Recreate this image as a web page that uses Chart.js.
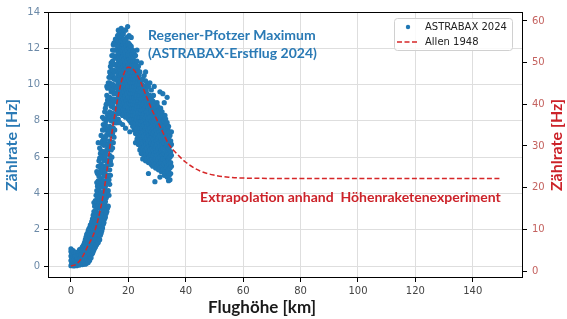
<!DOCTYPE html>
<html>
<head>
<meta charset="utf-8">
<script src="https://cdn.jsdelivr.net/npm/chart.js@4.4.1/dist/chart.umd.min.js"></script>
<style>
  html, body { margin: 0; padding: 0; background: #fff; }
</style>
</head>
<body>
<canvas id="myChart" width="567" height="319"></canvas>
<script>
// ASTRABAX 2024 flight: each row = altitude (km) and the count rates (Hz) read at it
var astrabaxRows = [
  [0, [0.02, 0.3, 0.55, 0.8, 0.95]], [0.25, [0.15, 0.45, 0.7]], [0.5, [0.05, 0.35, 0.6]], [0.75, [0.2, 0.5, 0.85]],
  [1, [0, 0.3, 0.6]], [1.25, [0.12, 0.4, 0.7]], [1.5, [0.05, 0.3, 0.55]], [1.75, [0.18, 0.45, 0.75]],
  [2, [0.02, 0.3, 0.6]], [2.25, [0.15, 0.42]], [2.5, [0.08, 0.35, 0.65]], [2.75, [0.2, 0.5, 0.8]],
  [3, [0.05, 0.32, 0.6, 0.9]], [3.25, [0.18, 0.45, 0.72]], [3.5, [0.1, 0.38, 0.65, 0.95]], [3.75, [0.25, 0.55, 0.85]],
  [4, [0.08, 0.4, 0.7, 1.05]], [4.25, [0.2, 0.52, 0.85, 1.1]], [4.5, [0.12, 0.45, 0.78, 1.2]], [4.75, [0.3, 0.62, 0.95, 1.3]],
  [5, [0.1, 0.42, 0.75, 1.1, 1.45]], [5.25, [0.25, 0.6, 0.92, 1.28, 1.6]],
  [5.5, [0.15, 0.5, 0.85, 1.2, 1.55, 1.75]], [5.75, [0.35, 0.7, 1.05, 1.4, 1.8]],
  [6, [0.2, 0.55, 0.9, 1.25, 1.6, 1.95]], [6.25, [0.4, 0.75, 1.1, 1.45, 1.85, 2.05]],
  [6.5, [0.3, 0.65, 1.0, 1.35, 1.7, 2.1]], [6.75, [0.5, 0.85, 1.2, 1.6, 1.95, 2.25]],
  [7, [0.45, 0.8, 1.15, 1.5, 1.9, 2.3]], [7.25, [0.65, 1.0, 1.4, 1.75, 2.15, 2.45]],
  [7.5, [0.7, 1.1, 1.5, 1.9, 2.3, 2.6]], [7.75, [0.8, 1.25, 1.65, 2.05, 2.5, 2.8]],
  [8, [0.9, 1.3, 1.75, 2.2, 2.65, 3.0, 3.5]], [8.25, [1.0, 1.45, 1.9, 2.4, 2.85, 3.3]],
  [8.5, [1.05, 1.55, 2.05, 2.55, 3.05, 3.6]], [8.75, [1.15, 1.7, 2.25, 2.8, 3.3, 3.9]],
  [9, [1.2, 1.75, 2.35, 2.95, 3.55, 4.15, 4.6, 5.2]], [9.25, [1.35, 1.95, 2.55, 3.2, 3.8, 4.4, 5.1]],
  [9.5, [1.3, 1.9, 2.6, 3.3, 4.0, 4.7, 5.5, 6.8]], [9.75, [1.5, 2.15, 2.85, 3.55, 4.25, 4.95, 5.8]],
  [10, [1.45, 2.2, 2.95, 3.7, 4.45, 5.2, 5.95, 6.5]], [10.25, [1.7, 2.45, 3.2, 3.95, 4.7, 5.45, 6.2]],
  [10.5, [1.8, 2.55, 3.3, 4.05, 4.8, 5.6, 6.35, 7.2]], [10.75, [1.95, 2.75, 3.55, 4.35, 5.15, 5.95, 6.75]],
  [11, [2.1, 2.9, 3.7, 4.5, 5.3, 6.1, 6.9, 7.5, 8.2]], [11.25, [2.3, 3.1, 3.9, 4.7, 5.5, 6.3, 7.1, 7.8]],
  [11.5, [2.4, 3.25, 4.1, 4.95, 5.8, 6.65, 7.5, 8.1]], [11.75, [2.6, 3.45, 4.3, 5.15, 6.0, 6.85, 7.7, 8.5]],
  [12, [2.7, 3.55, 4.4, 5.25, 6.1, 6.95, 7.8, 8.7]], [12.25, [2.9, 3.75, 4.6, 5.45, 6.3, 7.15, 8.0, 8.9]],
  [12.5, [3.0, 3.85, 4.7, 5.55, 6.4, 7.25, 8.1, 8.95, 9.4, 9.9]], [12.75, [3.2, 4.05, 4.9, 5.75, 6.6, 7.45, 8.3, 9.15, 9.8]],
  [13, [3.3, 4.15, 5.0, 5.85, 6.7, 7.55, 8.4, 9.25, 10.1]], [13.25, [3.9, 4.75, 5.6, 6.45, 7.3, 8.15, 9.0, 9.85, 10.4]],
  [13.5, [4.5, 5.3, 6.1, 6.9, 7.7, 8.5, 9.3, 10.1, 10.7]], [13.75, [5.0, 5.8, 6.6, 7.4, 8.2, 9.0, 9.8, 10.6, 11.0]],
  [14, [5.6, 6.4, 7.2, 8.0, 8.8, 9.6, 10.4, 11.2]], [14.25, [6.0, 6.8, 7.6, 8.4, 9.2, 10.0, 10.8, 11.6]],
  [14.5, [6.5, 7.3, 8.1, 8.9, 9.7, 10.5, 11.3, 11.9]], [14.75, [6.8, 7.6, 8.4, 9.2, 10.0, 10.8, 11.6, 12.2]],
  [15, [7.1, 7.9, 8.7, 9.5, 10.3, 11.1, 11.9, 12.3]], [15.25, [7.5, 8.3, 9.1, 9.9, 10.7, 11.5, 12.3]],
  [15.5, [7.9, 8.7, 9.5, 10.3, 11.1, 11.9, 12.5]], [15.75, [8.1, 9.1, 9.9, 10.7, 11.5, 12.3]],
  [16, [7.9, 8.6, 9.2, 9.8, 10.4, 11.0, 11.6, 12.2, 12.5]], [16.25, [8.4, 9.0, 9.6, 10.2, 10.8, 11.4, 12.0, 12.7]],
  [16.5, [8.1, 8.8, 9.4, 10.0, 10.6, 11.2, 11.8, 12.4, 13.0]], [16.75, [8.5, 9.1, 9.7, 10.3, 10.9, 11.5, 12.1, 12.8]],
  [17, [7.9, 8.7, 9.3, 9.9, 10.5, 11.1, 11.7, 12.3, 12.9]], [17.25, [8.4, 9.0, 9.6, 10.2, 10.8, 11.4, 12.0, 12.6]],
  [17.5, [8.8, 9.4, 10.0, 10.6, 11.2, 11.8, 12.4, 13.1]], [17.75, [8.5, 9.1, 9.7, 10.3, 10.9, 11.5, 12.1, 12.7]],
  [18, [7.8, 8.3, 8.9, 9.5, 10.1, 10.7, 11.3, 11.9, 12.4]], [18.25, [8.6, 9.2, 9.8, 10.4, 11.0, 11.6, 12.2, 12.8]],
  [18.5, [8.4, 9.0, 9.6, 10.2, 10.8, 11.4, 12.0, 12.5, 13.0]], [18.75, [8.7, 9.3, 9.9, 10.5, 11.1, 11.7, 12.3]],
  [19, [7.6, 8.2, 8.8, 9.4, 10.0, 10.6, 11.2, 11.8, 12.4, 13.0]], [19.25, [8.5, 9.1, 9.7, 10.3, 10.9, 11.5, 12.1]],
  [19.5, [8.3, 8.9, 9.5, 10.1, 10.7, 11.3, 11.9, 12.6]], [19.75, [8.6, 9.2, 9.8, 10.4, 11.0, 11.6, 12.2, 13.2]],
  [20, [8.1, 8.7, 9.3, 9.9, 10.5, 11.1, 11.7, 12.3]], [20.25, [8.4, 9.0, 9.6, 10.2, 10.8, 11.4, 12.0, 12.7]],
  [20.5, [7.4, 8.0, 8.6, 9.2, 9.8, 10.4, 11.0, 11.6, 12.2]], [20.75, [8.3, 8.9, 9.5, 10.1, 10.7, 11.3, 11.9]],
  [21, [7.9, 8.5, 9.1, 9.7, 10.3, 10.9, 11.5, 12.1, 12.6]], [21.25, [8.1, 8.7, 9.3, 9.9, 10.5, 11.1, 11.7]],
  [21.5, [7.7, 8.3, 8.9, 9.5, 10.1, 10.7, 11.3, 11.9]], [21.75, [7.9, 8.5, 9.1, 9.7, 10.3, 10.9, 11.5]],
  [22, [7.5, 8.1, 8.7, 9.3, 9.9, 10.5, 11.1, 11.7]], [22.25, [7.7, 8.3, 8.9, 9.5, 10.1, 10.7, 11.3]],
  [22.5, [6.8, 7.3, 7.9, 8.5, 9.1, 9.7, 10.3, 10.9, 11.6]], [22.75, [7.5, 8.1, 8.7, 9.3, 9.9, 10.5, 11.1]],
  [23, [7.0, 7.6, 8.2, 8.8, 9.4, 10.0, 10.6, 11.3, 11.9]], [23.25, [7.2, 7.8, 8.4, 9.0, 9.6, 10.2, 10.8]],
  [23.5, [6.7, 7.3, 7.9, 8.5, 9.1, 9.7, 10.3, 11.0]], [23.75, [6.9, 7.5, 8.1, 8.7, 9.3, 9.9, 10.5]],
  [24, [6.4, 7.0, 7.6, 8.2, 8.8, 9.4, 10.0, 10.7]], [24.25, [6.6, 7.2, 7.8, 8.4, 9.0, 9.6, 10.2]],
  [24.5, [6.2, 6.8, 7.4, 8.0, 8.6, 9.2, 9.8, 11.2]], [24.75, [6.4, 7.0, 7.6, 8.2, 8.8, 9.4, 10.0]],
  [25, [5.9, 6.5, 7.1, 7.7, 8.3, 8.9, 9.5, 10.3]], [25.25, [6.2, 6.8, 7.4, 8.0, 8.6, 9.2, 9.8]],
  [25.5, [6.0, 6.6, 7.2, 7.8, 8.4, 9.0, 9.6, 10.5]], [25.75, [6.3, 6.9, 7.5, 8.1, 8.7, 9.3, 9.9]],
  [26, [5.8, 6.4, 7.0, 7.6, 8.2, 8.8, 9.4, 10.2, 10.7]], [26.25, [6.1, 6.7, 7.3, 7.9, 8.5, 9.1, 9.7]],
  [26.5, [5.9, 6.5, 7.1, 7.7, 8.3, 8.9, 9.5, 10.0]], [26.75, [6.2, 6.8, 7.4, 8.0, 8.6, 9.2]],
  [27, [5.1, 5.7, 6.3, 6.9, 7.5, 8.1, 8.7, 9.3, 9.9]], [27.25, [6.0, 6.6, 7.2, 7.8, 8.4, 9.0]],
  [27.5, [5.8, 6.4, 7.0, 7.6, 8.2, 8.8, 9.4, 10.1]], [27.75, [6.1, 6.7, 7.3, 7.9, 8.5, 9.1]],
  [28, [5.6, 6.2, 6.8, 7.4, 8.0, 8.6, 9.2, 9.7]], [28.25, [5.9, 6.5, 7.1, 7.7, 8.3, 8.9]],
  [28.5, [5.5, 6.1, 6.7, 7.3, 7.9, 8.5, 9.1]], [28.75, [5.8, 6.4, 7.0, 7.6, 8.2, 8.8, 9.4]],
  [29, [5.6, 6.2, 6.8, 7.4, 8.0, 8.6, 9.0, 9.9]], [29.25, [4.65, 5.9, 6.5, 7.1, 7.7, 8.3]],
  [29.5, [5.4, 6.0, 6.6, 7.2, 7.8, 8.4, 8.9]], [29.75, [5.7, 6.3, 6.9, 7.5, 8.1, 8.7]],
  [30, [5.5, 6.1, 6.7, 7.3, 7.9, 8.5, 9.0]], [30.25, [5.8, 6.4, 7.0, 7.6, 8.2, 8.8]],
  [30.5, [5.3, 5.9, 6.5, 7.1, 7.7, 8.3]], [30.75, [5.6, 6.2, 6.8, 7.4, 8.0, 8.6]],
  [31, [4.9, 5.4, 6.0, 6.6, 7.2, 7.8, 8.4, 9.6]], [31.25, [5.7, 6.3, 6.9, 7.5, 8.1, 8.7]],
  [31.5, [5.2, 5.8, 6.4, 7.0, 7.6, 8.2]], [31.75, [5.5, 6.1, 6.7, 7.3, 7.9, 8.5]],
  [32, [5.3, 5.9, 6.5, 7.1, 7.7, 8.3, 9.5]], [32.25, [5.6, 6.2, 6.8, 7.4, 8.0]],
  [32.5, [5.0, 5.6, 6.2, 6.8, 7.4, 8.0, 9.0]], [32.75, [5.3, 5.9, 6.5, 7.1, 7.7, 8.3]],
  [33, [5.1, 5.7, 6.3, 6.9, 7.5, 8.1]], [33.25, [5.4, 6.0, 6.6, 7.2, 7.8]],
  [33.5, [4.9, 5.5, 6.1, 6.7, 7.3, 7.9, 9.3]], [33.75, [5.2, 5.8, 6.4, 7.0, 7.6]],
  [34, [4.7, 5.3, 5.9, 6.5, 7.1, 7.7]], [34.25, [5.0, 5.6, 6.2, 6.8, 7.4]],
  [34.5, [4.75, 5.4, 6.0, 6.6, 7.2]], [34.75, [5.1, 5.7, 6.3, 6.9]],
  [35, [5.5, 6.1, 6.7, 7.4]]
];

// Allen 1948 rocket measurement, right axis
var allenAlt = [0, 2, 4, 6, 8, 10, 12, 14, 16, 18, 20, 22, 24, 26, 28, 30, 32, 34, 36, 40, 45, 50, 55, 60, 80, 100, 120, 150];
var allenRate = [1.2, 1.7, 3.4, 6.2, 9, 14, 21.5, 32, 40.3, 46.5, 48.9, 48.2, 45.8, 42.4, 39, 36.2, 33.3, 30.5, 28.8, 26.1, 24, 23, 22.5, 22.3, 22.2, 22.2, 22.2, 22.2];

var xTicks = [0, 20, 40, 60, 80, 100, 120, 140];
var leftTicks = [0, 2, 4, 6, 8, 10, 12, 14];
var rightTicks = [0, 10, 20, 30, 40, 50, 60];

var BLUE = '#1f77b4';
var RED = '#d62728';
var TXT_BLUE = '#2a7ab5';
var TXT_RED = '#cc2229';

var astrabaxPoints = [];
astrabaxRows.forEach(function (row) {
  row[1].forEach(function (v) { astrabaxPoints.push({x: row[0], y: v}); });
});
var allenPoints = allenAlt.map(function (a, i) { return {x: a, y: allenRate[i]}; });

function fixTicks(list) {
  return function (scale) { scale.ticks = list.map(function (v) { return {value: v}; }); };
}

var extras = {
  id: 'extras',
  afterDraw: function (chart) {
    var c = chart.ctx, a = chart.chartArea;
    var sx = chart.scales.x, sy = chart.scales.y;
    c.save();
    // frame
    c.strokeStyle = '#000';
    c.lineWidth = 1;
    c.strokeRect(a.left + 0.5, a.top + 0.5, a.right - a.left - 1, a.bottom - a.top - 1);

    // annotations
    c.textBaseline = 'middle';
    c.textAlign = 'left';
    c.font = 'bold 14px Lato';
    c.fillStyle = TXT_BLUE;
    c.fillText('Regener-Pfotzer Maximum', sx.getPixelForValue(26.8), sy.getPixelForValue(12.68));
    c.fillText('(ASTRABAX-Erstflug 2024)', sx.getPixelForValue(26.8), sy.getPixelForValue(11.74));
    c.fillStyle = TXT_RED;
    c.fillText('Extrapolation anhand  Höhenraketenexperiment', sx.getPixelForValue(45), sy.getPixelForValue(3.75));

    // legend
    var lx = 394, ly = 18, lw = 118, lh = 32;
    c.beginPath();
    c.roundRect(lx + 0.5, ly + 0.5, lw, lh, 3);
    c.fillStyle = 'rgba(255,255,255,0.85)';
    c.fill();
    c.strokeStyle = '#d0d0d0';
    c.stroke();
    c.fillStyle = BLUE;
    c.beginPath();
    c.arc(408, 27, 2.2, 0, Math.PI * 2);
    c.fill();
    c.strokeStyle = RED;
    c.lineWidth = 1.5;
    c.setLineDash([5, 2.5]);
    c.beginPath();
    c.moveTo(397, 42);
    c.lineTo(419, 42);
    c.stroke();
    c.setLineDash([]);
    c.fillStyle = '#222';
    c.font = '10px "DejaVu Sans"';
    c.fillText('ASTRABAX 2024', 425, 27);
    c.fillText('Allen 1948', 425, 42);

    // axis titles
    c.textAlign = 'center';
    c.font = 'bold 17px Lato';
    c.fillStyle = '#1a1a1a';
    c.fillText('Flughöhe [km]', 262, 308);
    c.font = 'bold 16px Lato';
    c.fillStyle = TXT_RED;
    c.translate(557, 145);
    c.rotate(-Math.PI / 2);
    c.fillText('Zählrate [Hz]', 0, 0);
    c.restore();
  }
};

var ctx = document.getElementById('myChart').getContext('2d');
var myChart = new Chart(ctx, {
  type: 'scatter',
  data: {
    datasets: [{
      label: 'ASTRABAX 2024',
      data: astrabaxPoints,
      yAxisID: 'y',
      backgroundColor: BLUE,
      borderWidth: 0,
      pointRadius: 2.6,
      order: 2
    }, {
      label: 'Allen 1948',
      type: 'line',
      data: allenPoints,
      yAxisID: 'y2',
      borderColor: RED,
      borderWidth: 1.5,
      borderDash: [5, 2.5],
      pointRadius: 0,
      cubicInterpolationMode: 'monotone',
      fill: false,
      order: 1
    }]
  },
  options: {
    responsive: false,
    animation: false,
    layout: { padding: { top: 12, left: 0, right: 0, bottom: 0 } },
    plugins: {
      legend: { display: false },
      tooltip: { enabled: false }
    },
    scales: {
      x: {
        type: 'linear',
        min: -8,
        max: 157.5,
        afterBuildTicks: fixTicks(xTicks),
        afterFit: function (s) { s.height = 41; },
        border: { display: false },
        grid: { color: '#dedede', tickColor: '#000', tickLength: 4 },
        ticks: { color: '#444', padding: 3, font: { family: 'DejaVu Sans', size: 10 } }
      },
      y: {
        position: 'left',
        min: -0.66,
        max: 14,
        afterBuildTicks: fixTicks(leftTicks),
        afterFit: function (s) { s.width = 48; },
        border: { display: false },
        grid: { color: '#dedede', tickColor: '#000', tickLength: 4 },
        ticks: { color: '#6c8aa8', padding: 4, font: { family: 'DejaVu Sans', size: 10 } },
        title: {
          display: true,
          text: 'Zählrate [Hz]',
          color: TXT_BLUE,
          padding: { top: 2, bottom: 0 },
          font: { family: 'Lato', size: 16, weight: 'bold' }
        }
      },
      y2: {
        position: 'right',
        min: -1.68,
        max: 62.16,
        afterBuildTicks: fixTicks(rightTicks),
        afterFit: function (s) { s.width = 44; },
        border: { display: false },
        grid: { drawOnChartArea: false, tickColor: '#000', tickLength: 4 },
        ticks: { color: '#c4625f', padding: 5, font: { family: 'DejaVu Sans', size: 10 } }
      }
    }
  },
  plugins: [extras]
});
</script>
</body>
</html>
